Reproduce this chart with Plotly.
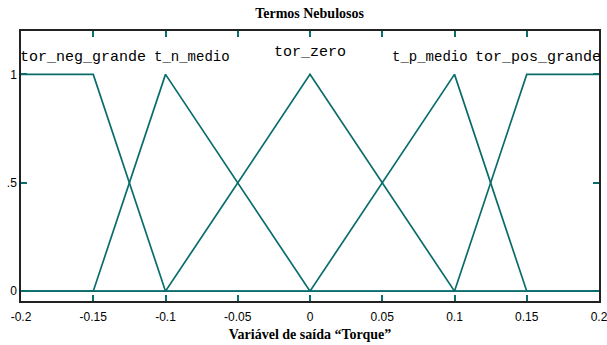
import plotly.graph_objects as go

# Membership functions of the output variable "Torque" (breakpoints and degrees)
mf_names = ["tor_neg_grande", "t_n_medio", "tor_zero", "t_p_medio", "tor_pos_grande"]
mf_x = [
    [-0.2, -0.15, -0.1, 0.2],
    [-0.2, -0.15, -0.1, 0.0, 0.2],
    [-0.2, -0.1, 0.0, 0.1, 0.2],
    [-0.2, 0.0, 0.1, 0.15, 0.2],
    [-0.2, 0.1, 0.15, 0.2],
]
mf_y = [
    [1, 1, 0, 0],
    [0, 0, 1, 0, 0],
    [0, 0, 1, 0, 0],
    [0, 0, 1, 0, 0],
    [0, 0, 1, 1],
]

# Label anchor positions and sizes for each term name
label_x = [-0.157, -0.082, 0.0, 0.083, 0.158]
label_y = [1.078, 1.078, 1.10, 1.078, 1.078]
label_size = [15, 14, 15, 14, 15]

x_ticks = [-0.2, -0.15, -0.1, -0.05, 0, 0.05, 0.1, 0.15, 0.2]
x_tick_text = ["-0.2", "-0.15", "-0.1", "-0.05", "0", "0.05", "0.1", "0.15", "0.2"]
y_ticks = [0, 0.5, 1]
y_tick_text = ["0", ".5", "1"]

line_color = "#0b6c6c"

fig = go.Figure()
for name, xs, ys in zip(mf_names, mf_x, mf_y):
    fig.add_trace(go.Scatter(
        x=xs, y=ys, mode="lines", name=name,
        line=dict(color=line_color, width=1.7),
        showlegend=False, hoverinfo="skip",
    ))

for name, lx, ly, fs in zip(mf_names, label_x, label_y, label_size):
    fig.add_annotation(
        x=lx, y=ly, xref="x", yref="y", text=name, showarrow=False,
        font=dict(family="Liberation Mono", size=fs, color="black"),
        xanchor="center", yanchor="middle",
    )

fig.update_layout(
    width=607, height=345,
    margin=dict(l=21, r=8, t=31, b=44, autoexpand=False),
    paper_bgcolor="white", plot_bgcolor="white",
    title=dict(
        text="<b>Termos Nebulosos</b>", x=0.51, xanchor="center",
        y=0.963, yanchor="middle",
        font=dict(family="Liberation Serif", size=14, color="black"),
    ),
    xaxis=dict(
        range=[-0.2, 0.2], tickvals=x_ticks, ticktext=x_tick_text,
        ticks="inside", ticklen=6, tickcolor=line_color, tickwidth=1.5,
        showline=True, linecolor="#222222", linewidth=1.5, mirror="ticks",
        showgrid=False, zeroline=False, automargin=False,
        ticklabelstandoff=4, ticklabeloverflow="allow",
        tickfont=dict(family="Liberation Sans", size=12, color="black"),
        title=dict(
            text="<b>Variável de saída “Torque”</b>", standoff=6,
            font=dict(family="Liberation Serif", size=14, color="black"),
        ),
    ),
    yaxis=dict(
        range=[-0.045, 1.2], tickvals=y_ticks, ticktext=y_tick_text,
        ticks="inside", ticklen=6, tickcolor=line_color, tickwidth=1.5,
        showline=True, linecolor="#222222", linewidth=1.5, mirror="ticks",
        showgrid=False, zeroline=False, automargin=False,
        ticklabeloverflow="allow",
        tickfont=dict(family="Liberation Sans", size=12, color="black"),
    ),
)

fig.write_html("out.html")
